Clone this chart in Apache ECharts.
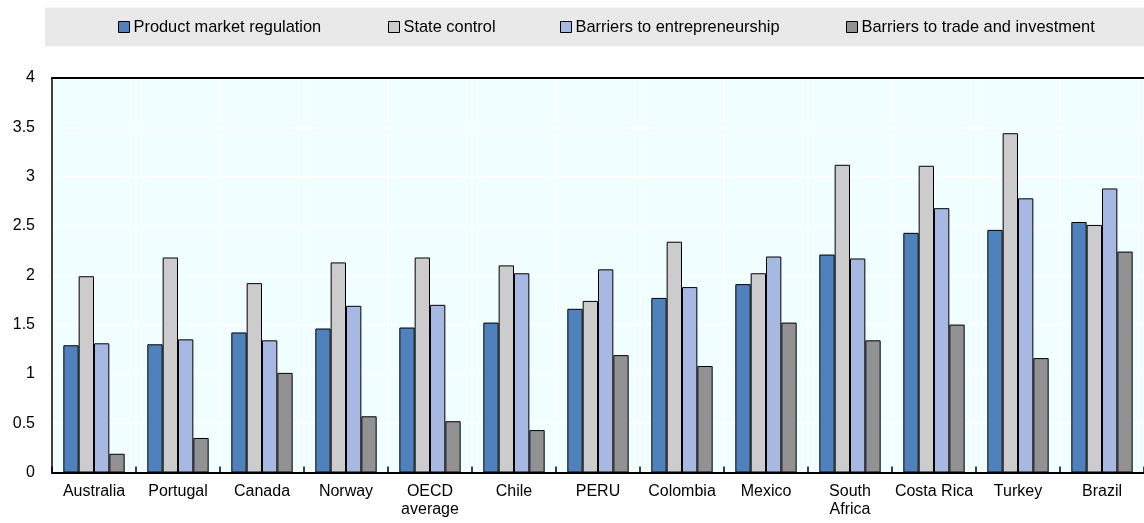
<!DOCTYPE html>
<html>
<head>
<meta charset="utf-8">
<script src="https://cdn.jsdelivr.net/npm/echarts@6/dist/echarts.min.js"></script>
<style>
html,body{margin:0;padding:0;background:#fff;}
#chart{width:1144px;height:523px;}
</style>
</head>
<body>
<div id="chart"></div>
<script>
const categories = ['Australia','Portugal','Canada','Norway','OECD\naverage','Chile','PERU','Colombia','Mexico','South\nAfrica','Costa Rica','Turkey','Brazil'];
const seriesNames = ['Product market regulation','State control','Barriers to entrepreneurship','Barriers to trade and investment'];
const productMarketRegulation = [1.29,1.30,1.42,1.46,1.47,1.52,1.66,1.77,1.91,2.21,2.43,2.46,2.54];
const stateControl = [1.99,2.18,1.92,2.13,2.18,2.10,1.74,2.34,2.02,3.12,3.11,3.44,2.51];
const barriersEntrepreneurship = [1.31,1.35,1.34,1.69,1.70,2.02,2.06,1.88,2.19,2.17,2.68,2.78,2.88];
const barriersTrade = [0.19,0.35,1.01,0.57,0.52,0.43,1.19,1.08,1.52,1.34,1.50,1.16,2.24];

const FONT = "'Liberation Sans',Arial,sans-serif";
const colors = ['#4F81BD','#CCCCCC','#A7B9E3','#929292'];
const seriesData = [productMarketRegulation, stateControl, barriersEntrepreneurship, barriersTrade];
const legendLeft = [118, 388, 560, 846];

const chart = echarts.init(document.getElementById('chart'), null, {renderer:'canvas'});
const option = {
  animation: false,
  textStyle: {fontFamily: FONT},
  graphic: [{
    type: 'rect', left: 45, top: 7.5, z: -10,
    shape: {width: 1099, height: 39},
    style: {fill: '#E9E9E9'}
  }],
  legend: seriesNames.map((n, i) => ({
    data: [n], left: legendLeft[i], top: 19, padding: 0,
    itemWidth: 11, itemHeight: 11, itemGap: 0,
    icon: 'rect',
    textStyle: {fontFamily: FONT, fontSize: 16.4, color: '#000', padding: [0,0,0,-1]},
    itemStyle: {borderColor: '#000', borderWidth: 1}
  })),
  grid: {left: 52, top: 78, width: 1097, height: 394.5, show: true, backgroundColor: '#F0FEFF', borderWidth: 0},
  xAxis: [{
    type: 'category', data: categories, position: 'bottom',
    axisLine: {show: true, lineStyle: {color: '#000', width: 2}},
    axisTick: {show: true, inside: true, length: 6, lineStyle: {color: '#000', width: 1.5}},
    axisLabel: {fontFamily: FONT, fontSize: 16, color: '#000', margin: 10, lineHeight: 18, interval: 0},
    splitLine: {show: true, lineStyle: {color: '#FFFFFF', width: 1.5}}
  },{
    type: 'category', data: categories, position: 'top',
    axisLine: {show: true, lineStyle: {color: '#000', width: 2}},
    axisTick: {show: false}, axisLabel: {show: false}, splitLine: {show: false}
  }],
  yAxis: {
    type: 'value', min: 0, max: 4, interval: 0.5,
    axisLine: {show: true, lineStyle: {color: '#000', width: 1.5}},
    axisTick: {show: false},
    axisLabel: {fontFamily: FONT, fontSize: 16, color: '#000', margin: 17},
    splitLine: {show: true, lineStyle: {color: '#FFFFFF', width: 1.5}}
  },
  series: seriesNames.map((n, i) => ({
    name: n, type: 'bar', data: seriesData[i],
    barGap: '0%', barCategoryGap: '27%',
    itemStyle: {color: colors[i], borderColor: '#000', borderWidth: 1}
  }))
};
chart.setOption(option);
</script>
</body>
</html>
